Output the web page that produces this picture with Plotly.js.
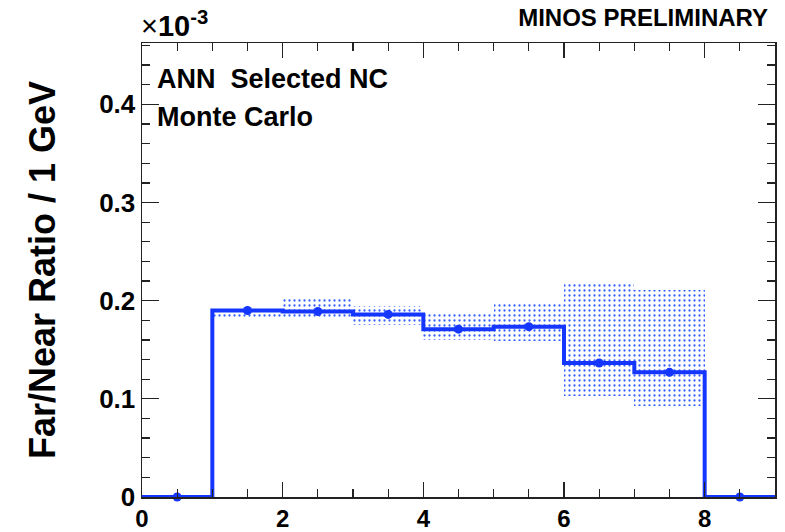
<!DOCTYPE html>
<html>
<head>
<meta charset="utf-8">
<script src="https://cdn.plot.ly/plotly-3.0.1.min.js"></script>
<style>html,body{margin:0;padding:0;background:#fff;}#chart{width:785px;height:532px;}</style>
</head>
<body>
<div id="chart"></div>
<script>
// Bin edges in reconstructed energy (GeV)
const binEdges = [0, 1, 2, 3, 4, 5, 6, 7, 8, 9];
// Far/Near ratio per bin (x 10^-3)
const ratio    = [0, 0.190, 0.189, 0.186, 0.171, 0.1735, 0.1365, 0.127, 0];
// Systematic error band (x 10^-3)
const bandLow  = [0, 0.182, 0.182, 0.175, 0.160, 0.1585, 0.103, 0.093, 0];
const bandHigh = [0, 0.1925, 0.204, 0.195, 0.186, 0.1975, 0.218, 0.211, 0];
const xTickVals = [0, 2, 4, 6, 8];
const yTickVals = [0, 0.1, 0.2, 0.3, 0.4];

const centers = ratio.map((_, i) => (binEdges[i] + binEdges[i + 1]) / 2);
const widths  = ratio.map((_, i) => binEdges[i + 1] - binEdges[i]);
const stepY   = ratio.concat([ratio[ratio.length - 1]]);

const BLUE = '#1436ff';
const FONT = 'Liberation Sans, Arial, sans-serif';

const traces = [
  {
    type: 'bar',
    x: centers,
    base: bandLow,
    y: bandHigh.map((h, i) => h - bandLow[i]),
    width: widths,
    marker: {
      color: '#3560ff',
      line: {width: 0},
      pattern: {shape: '.', size: 5, solidity: 0.16, fillmode: 'replace'}
    },
    hoverinfo: 'skip',
    showlegend: false
  },
  {
    type: 'scatter',
    mode: 'lines',
    x: binEdges,
    y: stepY,
    line: {shape: 'hv', color: BLUE, width: 4},
    cliponaxis: false,
    showlegend: false
  },
  {
    type: 'scatter',
    mode: 'markers',
    x: centers,
    y: ratio,
    marker: {color: BLUE, size: 9},
    cliponaxis: false,
    showlegend: false
  }
];

const layout = {
  width: 785,
  height: 532,
  margin: {l: 142, r: 10, t: 43, b: 35},
  paper_bgcolor: '#fff',
  plot_bgcolor: '#fff',
  font: {family: FONT, color: '#000'},
  bargap: 0,
  barmode: 'overlay',
  showlegend: false,
  title: {
    text: '<b>MINOS PRELIMINARY</b>',
    font: {family: FONT, size: 24, color: '#000'},
    xref: 'container', x: 768 / 785, xanchor: 'right',
    yref: 'container', y: 1 - 18 / 532, yanchor: 'middle'
  },
  xaxis: {
    range: [0, 9],
    tickvals: xTickVals,
    ticktext: xTickVals.map(String),
    ticks: 'inside', ticklen: 15, tickwidth: 1.3, tickcolor: '#222',
    minor: {dtick: 0.5, ticks: 'inside', ticklen: 8, tickwidth: 1.3, tickcolor: '#222'},
    showline: true, linecolor: '#222', linewidth: 1.5, mirror: 'allticks',
    showgrid: false, zeroline: false,
    tickfont: {family: FONT, size: 24, weight: 'bold', color: '#000'}
  },
  yaxis: {
    range: [0, 0.4625],
    tickvals: yTickVals,
    ticktext: yTickVals.map(v => v === 0 ? '0' : v.toFixed(1)),
    ticks: 'inside', ticklen: 17, tickwidth: 1.3, tickcolor: '#222',
    minor: {dtick: 0.02, ticks: 'inside', ticklen: 8, tickwidth: 1.3, tickcolor: '#222'},
    showline: true, linecolor: '#222', linewidth: 1.5, mirror: 'allticks',
    showgrid: false, zeroline: false,
    tickfont: {family: FONT, size: 26, weight: 'bold', color: '#000'},
    title: {
      text: '<b>Far/Near Ratio / 1 GeV</b>',
      font: {family: FONT, size: 36, color: '#000'},
      standoff: 32
    }
  },
  annotations: [
    {
      text: '×<b>10<sup>-3</sup></b>',
      xref: 'paper', yref: 'paper',
      x: (139 - 142) / 633, y: (497.5 - 24) / 454.5,
      xanchor: 'left', yanchor: 'middle', showarrow: false,
      font: {family: FONT, size: 29, color: '#000'}
    },
    {
      text: '<b>ANN\u00a0\u00a0Selected NC</b>',
      xref: 'paper', yref: 'paper',
      x: (155 - 142) / 633, y: (497.5 - 79) / 454.5,
      xanchor: 'left', yanchor: 'middle', showarrow: false,
      font: {family: FONT, size: 27, color: '#000'}
    },
    {
      text: '<b>Monte Carlo</b>',
      xref: 'paper', yref: 'paper',
      x: (155 - 142) / 633, y: (497.5 - 117) / 454.5,
      xanchor: 'left', yanchor: 'middle', showarrow: false,
      font: {family: FONT, size: 27, color: '#000'}
    }
  ]
};

Plotly.newPlot('chart', traces, layout, {staticPlot: true, displayModeBar: false});
</script>
</body>
</html>
